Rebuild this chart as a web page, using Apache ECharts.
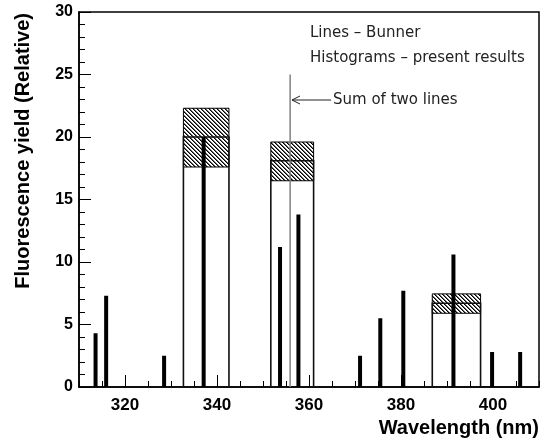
<!DOCTYPE html>
<html>
<head>
<meta charset="utf-8">
<script src="https://cdn.jsdelivr.net/npm/echarts@6/dist/echarts.min.js"></script>
<style>
html,body{margin:0;padding:0;background:#fff;}
#chart{width:545px;height:446px;}
</style>
</head>
<body>
<div id="chart"></div>
<script>
// Bunner lines
const lineWavelengths = [313.6, 315.9, 328.5, 337.1, 353.7, 357.7, 371.1, 375.5, 380.5, 391.4, 399.8, 405.9];
const lineYields = [4.3, 7.3, 2.5, 20.0, 11.2, 13.8, 2.5, 5.5, 7.7, 10.6, 2.8, 2.8];
// Histograms (present results)
const histLow = [332.7, 351.7, 386.8];
const histHigh = [342.6, 361.0, 397.3];
const histValue = [20.0, 18.1, 6.7];
const histErrLow = [17.6, 16.5, 5.9];
const histErrHigh = [22.3, 19.6, 7.45];
// Sum of two lines marker
const sumLineX = [355.9];
const sumLineY = [25];
// Axis ticks
const xLabelValues = [320, 340, 360, 380, 400];

const chart = echarts.init(document.getElementById('chart'), null, {renderer: 'canvas'});

// hatch pattern
const pc = document.createElement('canvas');
pc.width = 4; pc.height = 4;
const ctx = pc.getContext('2d');
ctx.fillStyle = '#ffffff';
ctx.fillRect(0, 0, 4, 4);
for (let i = 0; i < 4; i++) {
  ctx.fillStyle = '#000000';
  ctx.fillRect(i, i, 1, 1);
  ctx.fillStyle = '#666666';
  ctx.fillRect((i + 1) % 4, i, 1, 1);
}
const hatch = {image: pc, repeat: 'repeat'};

const histData = histLow.map((lo, i) => [lo, histHigh[i], histValue[i], histErrLow[i], histErrHigh[i]]);
const lineData = lineWavelengths.map((w, i) => [w, lineYields[i]]);
const sumData = sumLineX.map((w, i) => [w, sumLineY[i]]);

const tickFont = {fontFamily: '"Liberation Sans", Arial, sans-serif', fontWeight: 'bold', color: '#000'};
const noteFont = '15px "DejaVu Sans", sans-serif';

chart.setOption({
  animation: false,
  backgroundColor: '#fff',
  grid: {left: 79, right: 6, top: 12, bottom: 59, show: true, borderColor: '#000', borderWidth: 1.5, backgroundColor: 'transparent'},
  xAxis: [
    {
      type: 'value', min: 310, max: 410, interval: 5,
      axisLine: {show: true, lineStyle: {color: '#000', width: 1.5}},
      axisTick: {show: true, inside: true, length: 6, lineStyle: {color: '#000', width: 1}},
      axisLabel: Object.assign({fontSize: 17, margin: 10, formatter: v => (xLabelValues.indexOf(v) >= 0 ? String(v) : '')}, tickFont),
      splitLine: {show: false}
    },
    {
      type: 'value', min: 310, max: 410, position: 'bottom',
      axisLine: {show: false},
      axisTick: {show: true, inside: true, length: 12, customValues: xLabelValues, lineStyle: {color: '#000', width: 1}},
      axisLabel: {show: false},
      splitLine: {show: false}
    }
  ],
  yAxis: {
    type: 'value', min: 0, max: 30, interval: 5,
    axisLine: {show: true, lineStyle: {color: '#000', width: 1.5}},
    axisTick: {show: true, inside: true, length: 12, lineStyle: {color: '#000', width: 1}},
    minorTick: {show: true, splitNumber: 5, length: 6, lineStyle: {color: '#000', width: 1}},
    axisLabel: Object.assign({fontSize: 16, margin: 6}, tickFont),
    splitLine: {show: false},
    minorSplitLine: {show: false}
  },
  graphic: [
    {type: 'text', x: 23, y: 13, rotation: Math.PI / 2,
     style: {text: 'Fluorescence yield (Relative)', textAlign: 'right', textVerticalAlign: 'middle',
             font: 'bold 20px "Liberation Sans", Arial, sans-serif', fill: '#000'}},
    {type: 'text', x: 539, y: 428,
     style: {text: 'Wavelength (nm)', textAlign: 'right', textVerticalAlign: 'middle',
             font: 'bold 20px "Liberation Sans", Arial, sans-serif', fill: '#000'}},
    {type: 'text', x: 310, y: 33,
     style: {text: 'Lines \u2013 Bunner', textAlign: 'left', textVerticalAlign: 'middle',
             font: noteFont, fill: '#222'}},
    {type: 'text', x: 310, y: 58,
     style: {text: 'Histograms \u2013 present results', textAlign: 'left', textVerticalAlign: 'middle',
             font: noteFont, fill: '#222'}},
    {type: 'text', x: 333, y: 100,
     style: {text: 'Sum of two lines', textAlign: 'left', textVerticalAlign: 'middle',
             font: noteFont, fill: '#222'}},
    {type: 'polyline', shape: {points: [[331, 100], [292, 100]]}, style: {stroke: '#222', lineWidth: 1}},
    {type: 'polyline', shape: {points: [[300, 96], [292, 100], [300, 104]]}, style: {stroke: '#222', lineWidth: 1, fill: null}}
  ],
  series: [
    {
      type: 'custom', coordinateSystem: 'cartesian2d', xAxisIndex: 0, yAxisIndex: 0,
      clip: false, z: 2,
      encode: {x: [0, 1], y: [2, 3, 4]},
      data: histData,
      renderItem: function (params, api) {
        const x0 = api.value(0), x1 = api.value(1), v = api.value(2), el = api.value(3), eh = api.value(4);
        const bl = api.coord([x0, 0]);
        const tr = api.coord([x1, v]);
        const e0 = api.coord([x0, eh]);
        const e1 = api.coord([x1, el]);
        return {
          type: 'group',
          children: [
            {type: 'rect', shape: {x: e0[0], y: e0[1], width: e1[0] - e0[0], height: e1[1] - e0[1]},
             style: {fill: hatch, stroke: '#000', lineWidth: 1}},
            {type: 'polyline', shape: {points: [[bl[0], bl[1]], [bl[0], tr[1]], [tr[0], tr[1]], [tr[0], bl[1]]]},
             style: {fill: null, stroke: '#111', lineWidth: 1.6}}
          ]
        };
      }
    },
    {
      type: 'custom', coordinateSystem: 'cartesian2d', xAxisIndex: 0, yAxisIndex: 0,
      clip: false, z: 3,
      encode: {x: 0, y: 1},
      data: lineData,
      renderItem: function (params, api) {
        const p0 = api.coord([api.value(0), 0]);
        const p1 = api.coord([api.value(0), api.value(1)]);
        return {type: 'rect', shape: {x: p0[0] - 2, y: p1[1], width: 4, height: p0[1] - p1[1]},
                style: {fill: '#000'}};
      }
    },
    {
      type: 'custom', coordinateSystem: 'cartesian2d', xAxisIndex: 0, yAxisIndex: 0,
      clip: false, z: 4,
      encode: {x: 0, y: 1},
      data: sumData,
      renderItem: function (params, api) {
        const p0 = api.coord([api.value(0), 0]);
        const p1 = api.coord([api.value(0), api.value(1)]);
        return {type: 'line', shape: {x1: p0[0], y1: p0[1], x2: p1[0], y2: p1[1]},
                style: {stroke: '#808080', lineWidth: 1.5}};
      }
    }
  ]
});
</script>
</body>
</html>
